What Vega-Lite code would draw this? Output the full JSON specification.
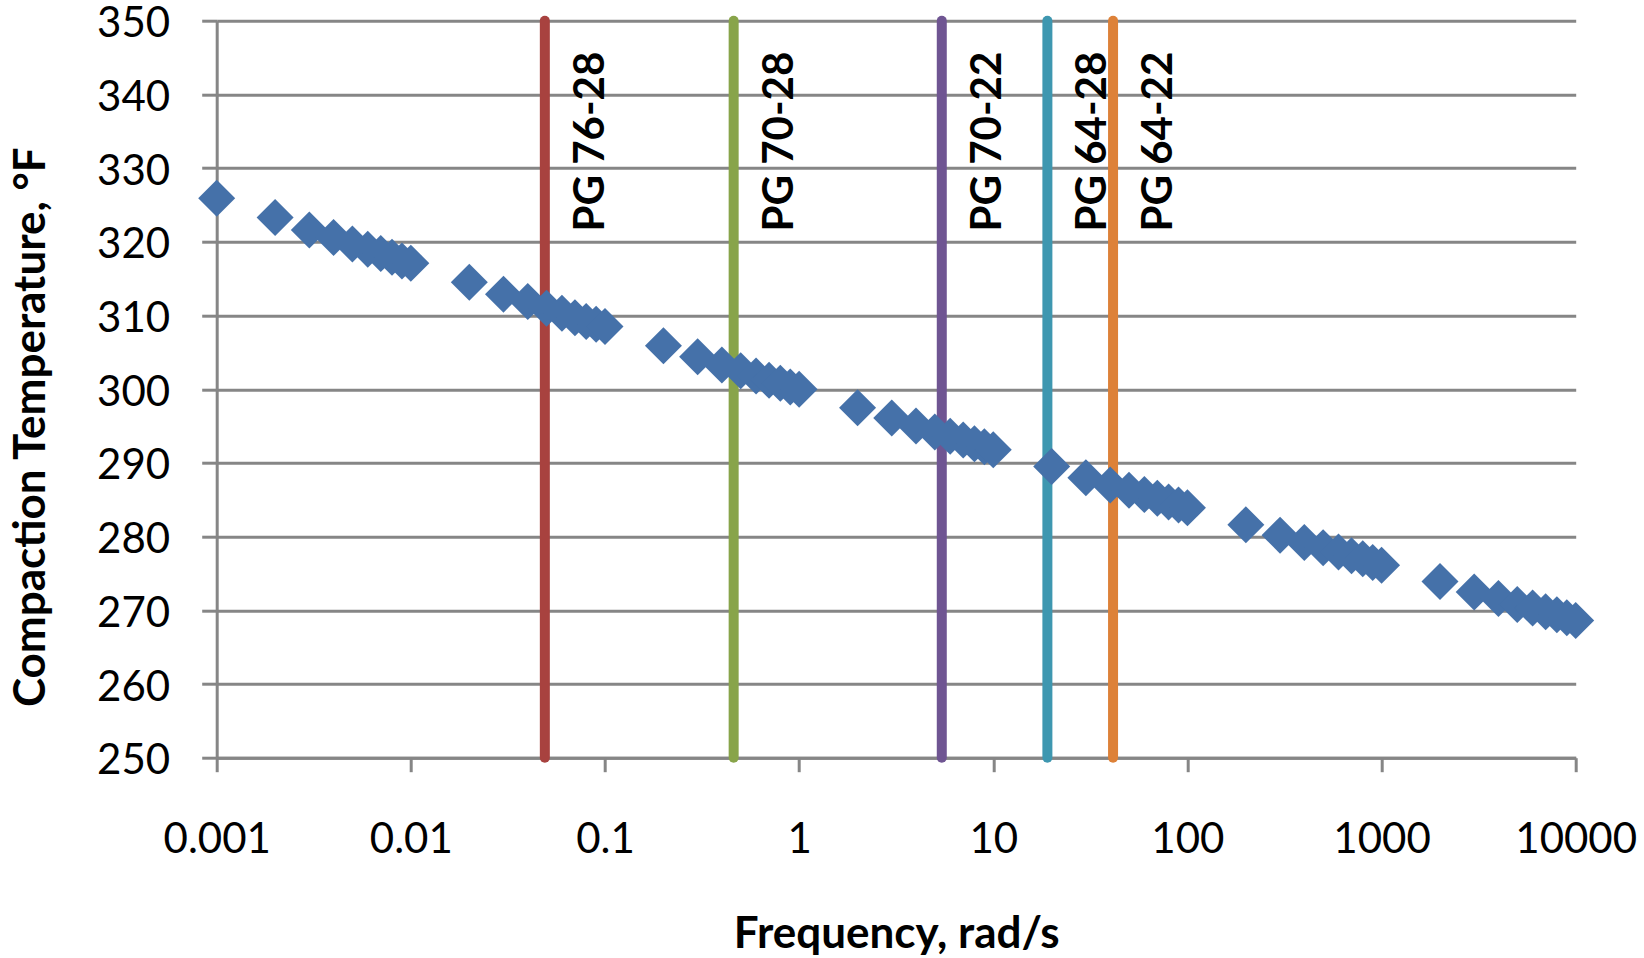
{
  "$schema": "https://vega.github.io/schema/vega-lite/v6.json",
  "width": 1359,
  "height": 737,
  "autosize": {"type": "none"},
  "padding": {"left": 216.7, "top": 20.7, "right": 68.3, "bottom": 200.3},
  "background": "white",
  "config": {"view": {"stroke": null}, "font": "Lato"},
  "datasets": {
    "lines": [
      {"g": "PG 76-28", "f": 0.049},
      {"g": "PG 70-28", "f": 0.46},
      {"g": "PG 70-22", "f": 5.43},
      {"g": "PG 64-28", "f": 19.0},
      {"g": "PG 64-22", "f": 41.4}
    ],
    "points": [
      {"f": 0.001, "t": 325.9}, {"f": 0.002, "t": 323.3}, {"f": 0.003, "t": 321.6}, {"f": 0.004, "t": 320.6},
      {"f": 0.005, "t": 319.7}, {"f": 0.006, "t": 319.0}, {"f": 0.007, "t": 318.4}, {"f": 0.008, "t": 317.9},
      {"f": 0.009, "t": 317.4}, {"f": 0.01, "t": 317.1},
      {"f": 0.02, "t": 314.5}, {"f": 0.03, "t": 312.9}, {"f": 0.04, "t": 311.9}, {"f": 0.05, "t": 311.0},
      {"f": 0.06, "t": 310.3}, {"f": 0.07, "t": 309.7}, {"f": 0.08, "t": 309.2}, {"f": 0.09, "t": 308.8},
      {"f": 0.1, "t": 308.5},
      {"f": 0.2, "t": 305.9}, {"f": 0.3, "t": 304.4}, {"f": 0.4, "t": 303.3}, {"f": 0.5, "t": 302.5},
      {"f": 0.6, "t": 301.8}, {"f": 0.7, "t": 301.2}, {"f": 0.8, "t": 300.8}, {"f": 0.9, "t": 300.3},
      {"f": 1, "t": 300.0},
      {"f": 2, "t": 297.5}, {"f": 3, "t": 296.1}, {"f": 4, "t": 295.0}, {"f": 5, "t": 294.2},
      {"f": 6, "t": 293.6}, {"f": 7, "t": 293.1}, {"f": 8, "t": 292.6}, {"f": 9, "t": 292.2},
      {"f": 10, "t": 291.8},
      {"f": 20, "t": 289.5}, {"f": 30, "t": 288.0}, {"f": 40, "t": 287.0}, {"f": 50, "t": 286.3},
      {"f": 60, "t": 285.7}, {"f": 70, "t": 285.2}, {"f": 80, "t": 284.7}, {"f": 90, "t": 284.3},
      {"f": 100, "t": 283.9},
      {"f": 200, "t": 281.6}, {"f": 300, "t": 280.2}, {"f": 400, "t": 279.2}, {"f": 500, "t": 278.5},
      {"f": 600, "t": 277.9}, {"f": 700, "t": 277.4}, {"f": 800, "t": 277.0}, {"f": 900, "t": 276.5},
      {"f": 1000, "t": 276.1},
      {"f": 2000, "t": 273.9}, {"f": 3000, "t": 272.5}, {"f": 4000, "t": 271.6}, {"f": 5000, "t": 270.8},
      {"f": 6000, "t": 270.3}, {"f": 7000, "t": 269.8}, {"f": 8000, "t": 269.4}, {"f": 9000, "t": 269.0},
      {"f": 10000, "t": 268.6}
    ]
  },
  "layer": [
    {
      "data": {"name": "lines"},
      "mark": {"type": "rule", "strokeWidth": 10, "strokeCap": "round"},
      "encoding": {
        "x": {
          "field": "f", "type": "quantitative", "title": "Frequency, rad/s",
          "scale": {"type": "log", "domain": [0.001, 10000], "nice": false},
          "axis": {
            "values": [0.001, 0.01, 0.1, 1, 10, 100, 1000, 10000],
            "format": "~g", "grid": false,
            "domainColor": "#868686", "domainWidth": 3,
            "tickColor": "#868686", "tickWidth": 3, "tickSize": 14,
            "labelFont": "Lato", "labelFontSize": 42, "labelColor": "black",
            "labelPadding": 48, "labelFlush": false, "labelOverlap": false,
            "title": "Frequency, rad/s", "titleFont": "Lato", "titleFontSize": 44,
            "titleFontWeight": "bold", "titleColor": "black",
            "titleBaseline": "alphabetic", "titleY": 190
          }
        },
        "y": {
          "datum": 250, "type": "quantitative", "title": "Compaction Temperature, °F",
          "scale": {"domain": [250, 350], "nice": false, "zero": false},
          "axis": {
            "values": [250, 260, 270, 280, 290, 300, 310, 320, 330, 340, 350],
            "grid": true, "gridColor": "#868686", "gridWidth": 3,
            "domainColor": "#868686", "domainWidth": 3,
            "tickColor": "#868686", "tickWidth": 3, "tickSize": 15,
            "labelFont": "Lato", "labelFontSize": 42, "labelColor": "black",
            "labelPadding": 32, "labelOffset": 3,
            "title": "Compaction Temperature, °F", "titleFont": "Lato", "titleFontSize": 44,
            "titleFontWeight": "bold", "titleColor": "black",
            "titleBaseline": "alphabetic", "titleAngle": 270, "titleX": -172, "titleY": 406
          }
        },
        "y2": {"datum": 350},
        "color": {
          "field": "g", "type": "nominal",
          "scale": {
            "domain": ["PG 76-28", "PG 70-28", "PG 70-22", "PG 64-28", "PG 64-22"],
            "range": ["#A8423F", "#88A44A", "#6F5592", "#3E97B0", "#DD8138"]
          },
          "legend": null
        }
      }
    },
    {
      "data": {"name": "lines"},
      "mark": {"type": "text", "angle": 270, "align": "left", "baseline": "alphabetic", "dy": 59,
               "font": "Lato", "fontSize": 42, "fontWeight": "bold", "color": "black"},
      "encoding": {
        "x": {"field": "f", "type": "quantitative", "title": "Frequency, rad/s"},
        "y": {"datum": 321.4, "type": "quantitative", "title": "Compaction Temperature, °F"},
        "text": {"field": "g"}
      }
    },
    {
      "data": {"name": "points"},
      "mark": {"type": "point", "shape": "diamond", "filled": true, "size": 1369, "color": "#4571A9", "opacity": 1},
      "encoding": {
        "x": {"field": "f", "type": "quantitative", "title": "Frequency, rad/s"},
        "y": {"field": "t", "type": "quantitative", "title": "Compaction Temperature, °F"}
      }
    }
  ]
}
